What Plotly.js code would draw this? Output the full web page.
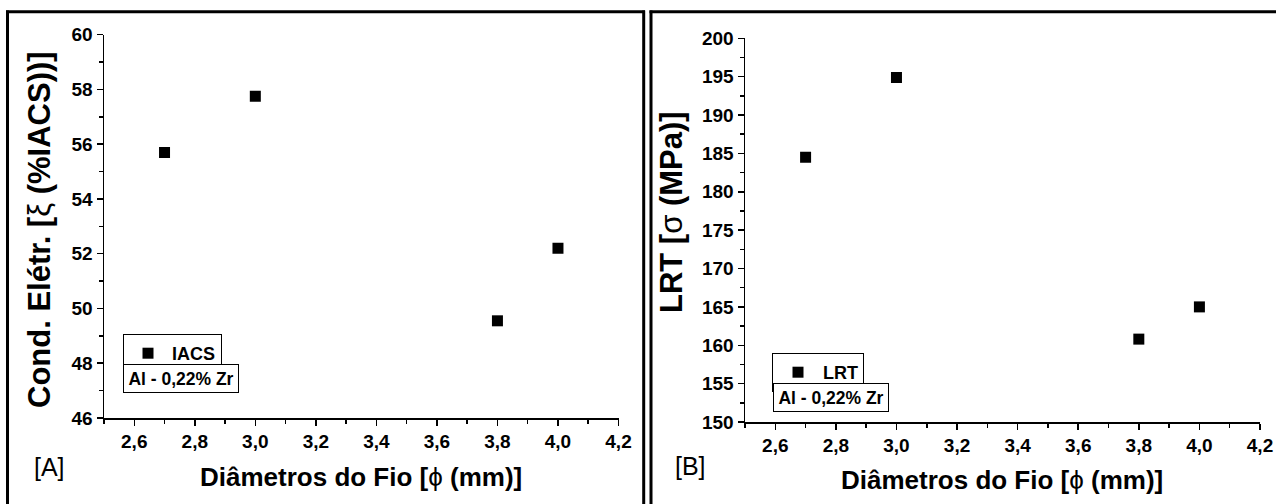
<!DOCTYPE html>
<html>
<head>
<meta charset="utf-8">
<script src="https://cdn.plot.ly/plotly-3.0.1.min.js"></script>
<style>
  html, body { margin: 0; padding: 0; background: #fff; }
  #chart { width: 1276px; height: 504px; }
</style>
</head>
<body>
<div id="chart"></div>
<script>
// ---- Data ----
const diameters = [2.7, 3.0, 3.8, 4.0];          // Diâmetros do Fio (mm)
const iacsValues = [55.7, 57.75, 49.55, 52.2];    // Cond. Elétr. (%IACS)
const lrtValues = [184.5, 194.9, 160.8, 165.0];   // LRT (MPa)

const xTickVals = [2.6, 2.8, 3.0, 3.2, 3.4, 3.6, 3.8, 4.0, 4.2];
const xTickText = ['2,6', '2,8', '3,0', '3,2', '3,4', '3,6', '3,8', '4,0', '4,2'];
const yTickValsA = [46, 48, 50, 52, 54, 56, 58, 60];
const yTickTextA = ['46', '48', '50', '52', '54', '56', '58', '60'];
const yTickValsB = [150, 155, 160, 165, 170, 175, 180, 185, 190, 195, 200];
const yTickTextB = ['150', '155', '160', '165', '170', '175', '180', '185', '190', '195', '200'];

const seriesNameA = 'IACS';
const seriesNameB = 'LRT';
const alloyLabel = 'Al - 0,22% Zr';
const yTitleA = '<b>Cond. Elétr. [</b>ξ<b> (%IACS))]</b>';
const yTitleB = '<b>LRT [</b>σ<b> (MPa)]</b>';
const xTitle = '<b>Diâmetros do Fio [</b>ϕ<b> (mm)]</b>';
const panelLabels = ['[A]', '[B]'];

// ---- Helpers ----
const W = 1276, H = 504;
const px = v => v / W;
const py = v => (H - v) / H;
const FONT = '"Liberation Sans", Arial, Helvetica, sans-serif';

// panel geometry (pixels)
const PA = { l: 104, r: 618.5, t: 34.7, b: 418 };
const PB = { l: 745, r: 1260, t: 38.3, b: 422 };

function tickFont() { return { family: FONT, size: 19, color: '#000', weight: 'bold' }; }

function xAxisCfg(P, anchor) {
  return {
    domain: [px(P.l), px(P.r)], anchor: anchor, range: [2.5, 4.2],
    tickmode: 'array', tickvals: xTickVals, ticktext: xTickText,
    ticks: 'outside', ticklen: 6, tickwidth: 1.5, tickcolor: '#000',
    showline: true, linewidth: 1.5, linecolor: '#000', mirror: false,
    showgrid: false, zeroline: false, tickfont: tickFont(),
    minor: { tickmode: 'linear', tick0: 2.5, dtick: 0.1, ticks: 'outside', ticklen: 4, tickwidth: 1.5, tickcolor: '#000', showgrid: false },
    fixedrange: true
  };
}
function yAxisCfg(P, anchor, range, vals, texts, minorD) {
  return {
    domain: [py(P.b), py(P.t)], anchor: anchor, range: range,
    tickmode: 'array', tickvals: vals, ticktext: texts,
    ticks: 'outside', ticklen: 6, tickwidth: 1.5, tickcolor: '#000',
    showline: true, linewidth: 1.5, linecolor: '#000', mirror: false,
    showgrid: false, zeroline: false, tickfont: tickFont(),
    minor: { tickmode: 'linear', tick0: range[0], dtick: minorD, ticks: 'outside', ticklen: 4, tickwidth: 1.5, tickcolor: '#000', showgrid: false },
    fixedrange: true
  };
}

const traces = [
  {
    x: diameters, y: iacsValues, xaxis: 'x', yaxis: 'y', type: 'scatter', mode: 'markers',
    name: '<b>' + seriesNameA + '</b>', legend: 'legend',
    marker: { symbol: 'square', size: 11, color: '#000', line: { width: 0 } }
  },
  {
    x: diameters, y: lrtValues, xaxis: 'x2', yaxis: 'y2', type: 'scatter', mode: 'markers',
    name: '<b>' + seriesNameB + '</b>', legend: 'legend2',
    marker: { symbol: 'square', size: 11, color: '#000', line: { width: 0 } }
  }
];

const legendFont = { family: FONT, size: 18, color: '#000' };
const annFont = { family: FONT, size: 26, color: '#000' };

const annotations = [
  { xref: 'paper', yref: 'paper', x: px(39), y: py(230), text: yTitleA, textangle: -90,
    showarrow: false, xanchor: 'center', yanchor: 'middle', font: { family: FONT, size: 31, color: '#000' } },
  { xref: 'paper', yref: 'paper', x: px(672), y: py(212), text: yTitleB, textangle: -90,
    showarrow: false, xanchor: 'center', yanchor: 'middle', font: { family: FONT, size: 31, color: '#000' } },
  { xref: 'paper', yref: 'paper', x: px(361), y: py(477), text: xTitle,
    showarrow: false, xanchor: 'center', yanchor: 'middle', font: annFont },
  { xref: 'paper', yref: 'paper', x: px(1002), y: py(480), text: xTitle,
    showarrow: false, xanchor: 'center', yanchor: 'middle', font: annFont },
  { xref: 'paper', yref: 'paper', x: px(49), y: py(467), text: panelLabels[0],
    showarrow: false, xanchor: 'center', yanchor: 'middle', font: { family: FONT, size: 25, color: '#000' } },
  { xref: 'paper', yref: 'paper', x: px(690), y: py(466), text: panelLabels[1],
    showarrow: false, xanchor: 'center', yanchor: 'middle', font: { family: FONT, size: 25, color: '#000' } },
  { xref: 'paper', yref: 'paper', x: px(123), y: py(364), text: '<b>' + alloyLabel + '</b>',
    showarrow: false, xanchor: 'left', yanchor: 'top', font: { family: FONT, size: 17.5, color: '#000' },
    bordercolor: '#000', borderwidth: 1, borderpad: 3, bgcolor: '#fff', width: 108, height: 21 },
  { xref: 'paper', yref: 'paper', x: px(773), y: py(383), text: '<b>' + alloyLabel + '</b>',
    showarrow: false, xanchor: 'left', yanchor: 'top', font: { family: FONT, size: 17.5, color: '#000' },
    bordercolor: '#000', borderwidth: 1, borderpad: 3, bgcolor: '#fff', width: 108, height: 21 }
];

const layout = {
  width: W, height: H,
  margin: { l: 0, r: 0, t: 0, b: 0 },
  paper_bgcolor: '#fff', plot_bgcolor: '#fff',
  font: { family: FONT, size: 18, color: '#000' },
  showlegend: true,
  xaxis: xAxisCfg(PA, 'y'),
  yaxis: yAxisCfg(PA, 'x', [46, 60], yTickValsA, yTickTextA, 1),
  xaxis2: xAxisCfg(PB, 'y2'),
  yaxis2: yAxisCfg(PB, 'x2', [150, 200], yTickValsB, yTickTextB, 2.5),
  legend: {
    x: px(123), y: py(334), xanchor: 'left', yanchor: 'top', itemwidth: 38,
    bordercolor: '#000', borderwidth: 1, bgcolor: '#fff', font: legendFont
  },
  legend2: {
    x: px(772), y: py(353), xanchor: 'left', yanchor: 'top', itemwidth: 40,
    bordercolor: '#000', borderwidth: 1, bgcolor: '#fff', font: legendFont
  },
  annotations: annotations,
  shapes: [
    { type: 'line', xref: 'paper', yref: 'paper', x0: px(7.5), x1: px(7.5), y0: -0.02, y1: py(10.5), line: { color: '#000', width: 3 } },
    { type: 'line', xref: 'paper', yref: 'paper', x0: px(6), x1: px(645), y0: py(11.7), y1: py(11.7), line: { color: '#000', width: 3 } },
    { type: 'line', xref: 'paper', yref: 'paper', x0: px(643.7), x1: px(643.7), y0: -0.02, y1: py(10.5), line: { color: '#000', width: 3 } },
    { type: 'line', xref: 'paper', yref: 'paper', x0: px(651), x1: px(651), y0: -0.02, y1: py(10.5), line: { color: '#000', width: 3 } },
    { type: 'line', xref: 'paper', yref: 'paper', x0: px(649.5), x1: 1.01, y0: py(11.7), y1: py(11.7), line: { color: '#000', width: 3 } }
  ]
};

Plotly.newPlot('chart', traces, layout, { staticPlot: true, displayModeBar: false });
</script>
</body>
</html>
